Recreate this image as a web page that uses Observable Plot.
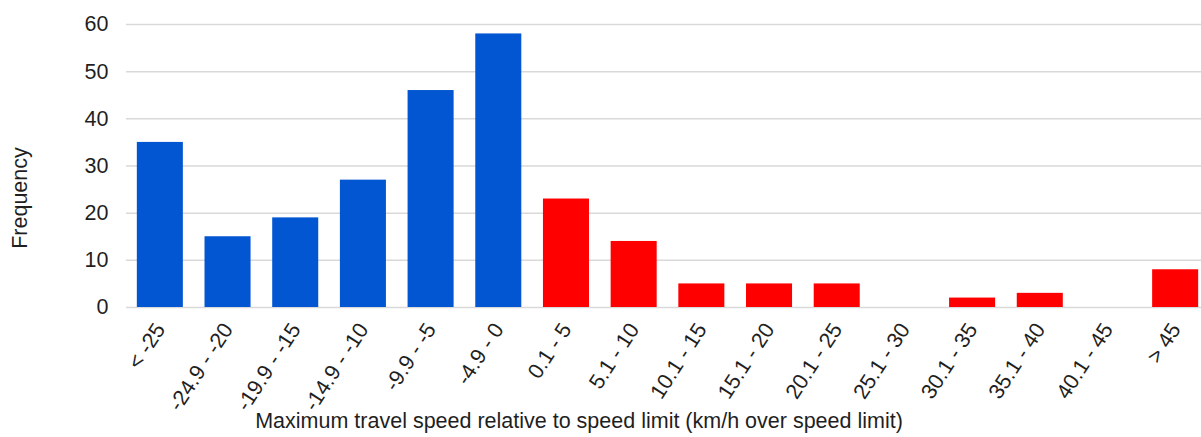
<!DOCTYPE html>
<html>
<head>
<meta charset="utf-8">
<script src="https://cdn.jsdelivr.net/npm/d3@7"></script>
<script src="https://cdn.jsdelivr.net/npm/@observablehq/plot@0.6"></script>
<style>
  html, body { margin: 0; padding: 0; background: #fff; }
  #chart svg { display: block; }
</style>
</head>
<body>
<div id="chart"></div>
<script>
// Speed bins (km/h relative to the limit) and how many trips fell in each
const bins = ["< -25", "-24.9 - -20", "-19.9 - -15", "-14.9 - -10", "-9.9 - -5", "-4.9 - 0",
  "0.1 - 5", "5.1 - 10", "10.1 - 15", "15.1 - 20", "20.1 - 25", "25.1 - 30",
  "30.1 - 35", "35.1 - 40", "40.1 - 45", "> 45"];
const counts = [35, 15, 19, 27, 46, 58, 23, 14, 5, 5, 5, 0, 2, 3, 0, 8];
const overLimit = [false, false, false, false, false, false,
  true, true, true, true, true, true, true, true, true, true];
const yTicks = [0, 10, 20, 30, 40, 50, 60];

const data = bins.map((bin, i) => ({bin, count: counts[i], over: overLimit[i]}));

const font = "Liberation Sans, Arial, sans-serif";
const ink = "#1f1f1f";
const fs = 21.5;

const chart = Plot.plot({
  width: 1201,
  height: 437,
  marginLeft: 126,
  marginRight: 0,
  marginTop: 24,
  marginBottom: 130,
  style: {fontFamily: font, fontSize: `${fs}px`, color: ink, background: "#fff"},
  // the band range runs a little past the right edge, so the last bar sits flush
  x: {domain: bins, range: [126, 1209], round: false, paddingInner: 0.32, paddingOuter: 0.16, label: null},
  y: {domain: [0, 60], label: null},
  color: {domain: [false, true], range: ["#0356d1", "#ff0000"]},
  marks: [
    Plot.gridY(yTicks, {stroke: "#d9d9d9", strokeOpacity: 1, strokeWidth: 1.5}),
    Plot.barY(data, {x: "bin", y: "count", fill: "over"}),
    Plot.axisY(yTicks, {tickSize: 0, tickPadding: 18, fontSize: fs, fill: ink, label: null}),
    Plot.axisX({tickSize: 0, tickRotate: -57, tickPadding: 18, fontSize: fs, fill: ink, label: null}),
    Plot.text(["Frequency"], {frameAnchor: "left", textAnchor: "middle", dx: -106, dy: 32,
      rotate: -90, fontSize: fs, fill: ink}),
    Plot.text(["Maximum travel speed relative to speed limit (km/h over speed limit)"],
      {frameAnchor: "bottom", dx: -85, dy: 120, fontSize: fs, fill: ink})
  ]
});

document.getElementById("chart").append(chart);
</script>
</body>
</html>
